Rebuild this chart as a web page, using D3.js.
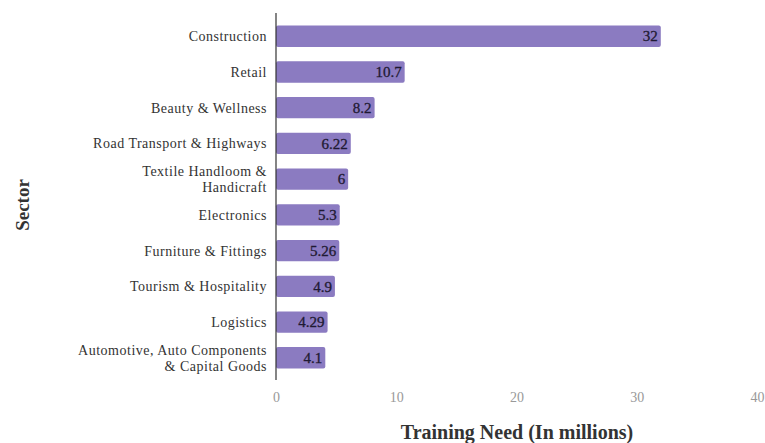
<!DOCTYPE html>
<html><head><meta charset="utf-8">
<script src="https://cdn.jsdelivr.net/npm/d3@7"></script>
<style>
body{margin:0;background:#fff;}
</style></head>
<body><svg id="c" width="765" height="443"></svg>
<script>
const sectors = [
  ["Construction"],
  ["Retail"],
  ["Beauty & Wellness"],
  ["Road Transport & Highways"],
  ["Textile Handloom &", "Handicraft"],
  ["Electronics"],
  ["Furniture & Fittings"],
  ["Tourism & Hospitality"],
  ["Logistics"],
  ["Automotive, Auto Components", "& Capital Goods"]
];
const values = [32, 10.7, 8.2, 6.22, 6, 5.3, 5.26, 4.9, 4.29, 4.1];
const valueLabels = ["32", "10.7", "8.2", "6.22", "6", "5.3", "5.26", "4.9", "4.29", "4.1"];
const xTicks = [0, 10, 20, 30, 40];

const FONT = '"Liberation Serif", "Times New Roman", serif';
const svg = d3.select("#c").attr("font-family", FONT);
const x = d3.scaleLinear().domain([0, 40]).range([276, 757]);
const y = d3.scaleBand().domain(d3.range(sectors.length)).range([14, 380]).paddingInner(0.4).paddingOuter(0.32);

svg.selectAll("rect.bar").data(values).join("rect")
  .attr("class","bar")
  .attr("x", x(0))
  .attr("y", (d,i)=>y(i))
  .attr("width", d=>x(d)-x(0))
  .attr("height", y.bandwidth())
  .attr("rx", 2)
  .attr("fill", "#8b7bc1");

svg.selectAll("text.val").data(values).join("text")
  .attr("class","val")
  .attr("font-family", FONT)
  .attr("x", d=>x(d)-3)
  .attr("y", (d,i)=>y(i)+y.bandwidth()/2)
  .attr("dy","0.35em")
  .attr("text-anchor","end")
  .attr("font-size", 15)
  .attr("fill","#1f1a33")
  .attr("stroke","#1f1a33")
  .attr("stroke-width",0.3)
  .text((d,i)=>valueLabels[i]);

// y axis line
svg.append("line").attr("x1", x(0)).attr("x2", x(0)).attr("y1", 13).attr("y2", 380)
  .attr("stroke","#333").attr("stroke-width",1.2);

// category labels
const lab = svg.selectAll("text.cat").data(sectors).join("text")
  .attr("class","cat")
  .attr("font-family", FONT)
  .attr("text-anchor","end")
  .attr("font-size", 14)
  .attr("letter-spacing", 0.5)
  .attr("fill","#333")
  .attr("transform",(d,i)=>`translate(267,${y(i)+y.bandwidth()/2})`);
lab.each(function(lines){
  const t = d3.select(this);
  const n = lines.length;
  lines.forEach((l,k)=>{
    t.append("tspan").attr("x",0).attr("y", (k-(n-1)/2)*16).attr("dy","0.35em").text(l);
  });
});

// x tick labels
const xa = svg.append("g").attr("transform","translate(0,386)")
  .call(d3.axisBottom(x).tickValues(xTicks).tickSize(0).tickPadding(6));
xa.attr("font-family", FONT);
xa.select(".domain").remove();
xa.selectAll("text").attr("font-family", FONT).attr("font-size",14).attr("fill","#999");

svg.append("text").attr("font-family", FONT).attr("x",517).attr("y",439).attr("text-anchor","middle")
  .attr("font-size",20).attr("font-weight","bold").attr("fill","#333").text("Training Need (In millions)");
svg.append("text").attr("font-family", FONT).attr("transform","translate(29,205) rotate(-90)").attr("text-anchor","middle")
  .attr("font-size",19).attr("font-weight","bold").attr("fill","#333").text("Sector");
</script></body></html>
